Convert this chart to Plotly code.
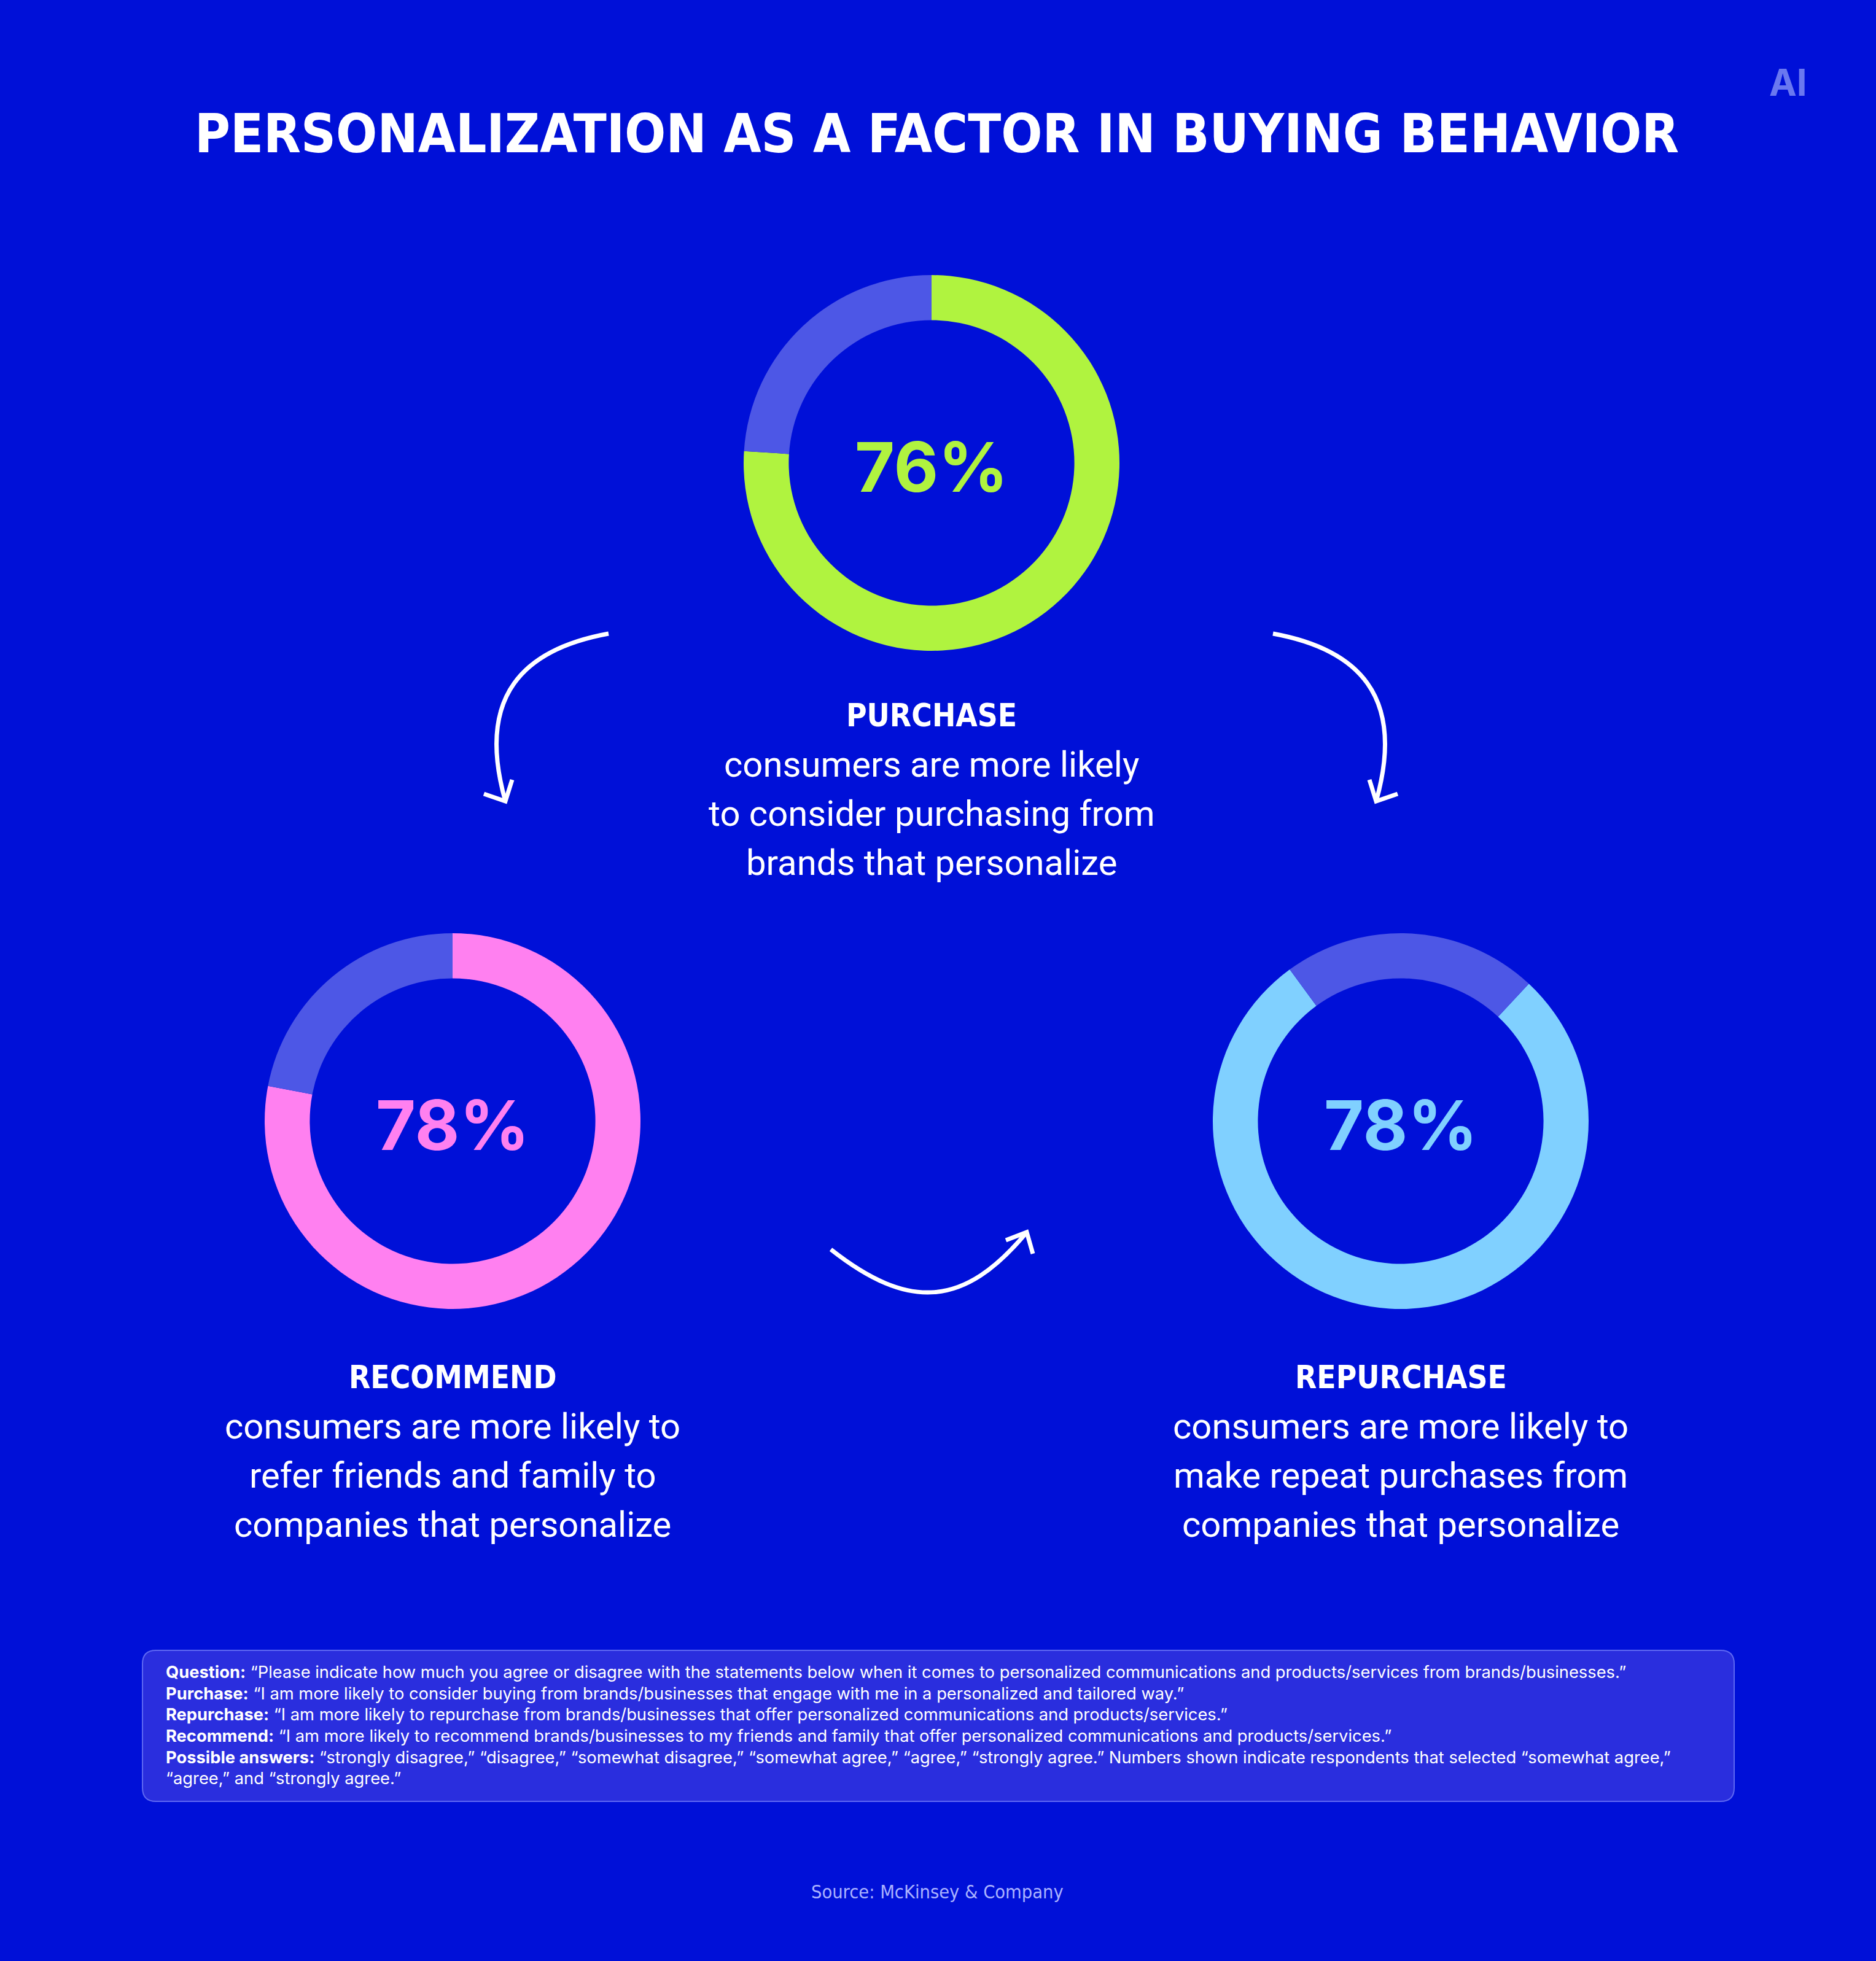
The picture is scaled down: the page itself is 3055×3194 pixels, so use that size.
import plotly.graph_objects as go

W, H = 3055, 3194
BG = "#0010D8"

# ---------------- data ----------------
categories = ["PURCHASE", "RECOMMEND", "REPURCHASE"]
agree_pct = [76, 78, 78]
other_pct = [24, 22, 22]
ring_colors = ["#B0F33F", "#FF80F0", "#80D0FF"]
rest_color = "#4D57E6"
descriptions = [
    ["consumers are more likely", "to consider purchasing from", "brands that personalize"],
    ["consumers are more likely to", "refer friends and family to", "companies that personalize"],
    ["consumers are more likely to", "make repeat purchases from", "companies that personalize"],
]
title_text = "PERSONALIZATION AS A FACTOR IN BUYING BEHAVIOR"
source_text = "Source: McKinsey & Company"
footnote_lines = [
    "<b>Question:</b> \u201cPlease indicate how much you agree or disagree with the statements below when it comes to personalized communications and products/services from brands/businesses.\u201d",
    "<b>Purchase:</b> \u201cI am more likely to consider buying from brands/businesses that engage with me in a personalized and tailored way.\u201d",
    "<b>Repurchase:</b> \u201cI am more likely to repurchase from brands/businesses that offer personalized communications and products/services.\u201d",
    "<b>Recommend:</b> \u201cI am more likely to recommend brands/businesses to my friends and family that offer personalized communications and products/services.\u201d",
    "<b>Possible answers:</b> \u201cstrongly disagree,\u201d \u201cdisagree,\u201d \u201csomewhat disagree,\u201d \u201csomewhat agree,\u201d \u201cagree,\u201d \u201cstrongly agree.\u201d Numbers shown indicate respondents that selected \u201csomewhat agree,\u201d",
    "\u201cagree,\u201d and \u201cstrongly agree.\u201d",
]

# ---------------- layout helpers (pixel -> paper) ----------------
def px(x):
    return x / W

def py(y):
    return 1 - y / H

centers = [(1517, 754), (737, 1826), (2281, 1826)]
R = 306
rotations = [0, 0, 43]

COND = "Liberation Sans Narrow, DejaVu Sans Condensed, Roboto, sans-serif"
BODY = "Roboto, Liberation Sans, sans-serif"

fig = go.Figure()
annotations = []
shapes = []

for i, cat in enumerate(categories):
    cx, cy = centers[i]
    fig.add_trace(go.Pie(
        values=[agree_pct[i], other_pct[i]],
        labels=["agree", "other"],
        hole=0.76,
        sort=False,
        direction="clockwise",
        rotation=rotations[i],
        marker=dict(colors=[ring_colors[i], rest_color], line=dict(width=0)),
        textinfo="none",
        hoverinfo="skip",
        showlegend=False,
        domain=dict(x=[px(cx - R), px(cx + R)], y=[py(cy + R), py(cy - R)]),
    ))
    annotations.append(dict(
        x=px(cx), y=py(cy + 6), xref="paper", yref="paper",
        text=f"<b>{agree_pct[i]}%</b>", showarrow=False,
        xanchor="center", yanchor="middle",
        font=dict(family="Inter, Roboto, sans-serif", size=112, color=ring_colors[i], weight=800),
    ))

# text blocks under each donut
heading_y = [1165, 2243, 2243]
for i, cat in enumerate(categories):
    cx = centers[i][0]
    hy = heading_y[i]
    annotations.append(dict(
        x=px(cx), y=py(hy), xref="paper", yref="paper", text=f"<b>{cat}</b>",
        showarrow=False, xanchor="center", yanchor="middle",
        font=dict(family=COND, size=51, color="white"),
    ))
    for j, line in enumerate(descriptions[i]):
        annotations.append(dict(
            x=px(cx), y=py(hy + 80 * (j + 1)), xref="paper", yref="paper", text=line,
            showarrow=False, xanchor="center", yanchor="middle",
            font=dict(family=BODY, size=58, color="white"),
        ))

# title
annotations.append(dict(
    x=px(1525), y=py(218), xref="paper", yref="paper", text=f"<b>{title_text}</b>",
    showarrow=False, xanchor="center", yanchor="middle",
    font=dict(family=COND, size=88, color="white"),
))
# logo
annotations.append(dict(
    x=px(2912), y=py(134), xref="paper", yref="paper", text="<b>AI</b>",
    showarrow=False, xanchor="center", yanchor="middle",
    font=dict(family="Inter, Roboto, sans-serif", size=60, color="#6A78F0"),
))
# source
annotations.append(dict(
    x=px(1526), y=py(3081), xref="paper", yref="paper", text=source_text,
    showarrow=False, xanchor="center", yanchor="middle",
    font=dict(family=COND, size=30.5, color="#AAB2FF"),
))
# footnote
line_y = [2723, 2758, 2792, 2827, 2862, 2896]
for t, yy in zip(footnote_lines, line_y):
    annotations.append(dict(
        x=px(268), y=py(yy), xref="paper", yref="paper", text=t,
        showarrow=False, xanchor="left", yanchor="middle",
        font=dict(family="Inter, Roboto, sans-serif", size=27.3, color="white"),
    ))

# footnote box with rounded corners
x0, x1, y0, y1, r = 232, 2824, 2688, 2934, 22
box = (f"M {px(x0 + r)},{py(y0)} L {px(x1 - r)},{py(y0)} "
       f"Q {px(x1)},{py(y0)} {px(x1)},{py(y0 + r)} L {px(x1)},{py(y1 - r)} "
       f"Q {px(x1)},{py(y1)} {px(x1 - r)},{py(y1)} L {px(x0 + r)},{py(y1)} "
       f"Q {px(x0)},{py(y1)} {px(x0)},{py(y1 - r)} L {px(x0)},{py(y0 + r)} "
       f"Q {px(x0)},{py(y0)} {px(x0 + r)},{py(y0)} Z")
shapes.append(dict(type="path", path=box, xref="paper", yref="paper",
                   fillcolor="#2A2EDE", line=dict(color="#5E68F2", width=2), layer="below"))

def cubic(p0, p1, p2, p3):
    return (f"M {px(p0[0])},{py(p0[1])} C {px(p1[0])},{py(p1[1])} "
            f"{px(p2[0])},{py(p2[1])} {px(p3[0])},{py(p3[1])}")

def head(w1, tip, w2):
    return (f"M {px(w1[0])},{py(w1[1])} L {px(tip[0])},{py(tip[1])} "
            f"L {px(w2[0])},{py(w2[1])}")

arrows = [
    ((991, 1032), (854, 1057), (774, 1132), (823, 1305), (788, 1293), (834, 1270)),
    ((2073, 1032), (2210, 1057), (2290, 1132), (2241, 1305), (2276, 1293), (2230, 1270)),
    ((1353, 2035), (1480, 2135), (1570, 2130), (1672, 2007), (1638, 2020), (1682, 2042)),
]
for a in arrows:
    shapes.append(dict(type="path", path=cubic(a[0], a[1], a[2], a[3]), xref="paper", yref="paper",
                       line=dict(color="white", width=7)))
    shapes.append(dict(type="path", path=head(a[4], a[3], a[5]), xref="paper", yref="paper",
                       line=dict(color="white", width=7)))

fig.update_layout(
    width=W, height=H,
    margin=dict(l=0, r=0, t=0, b=0),
    paper_bgcolor=BG, plot_bgcolor=BG,
    annotations=annotations, shapes=shapes,
    showlegend=False,
)
fig.write_html(
    "out.html",
    config={"displayModeBar": False},
    post_script="document.body.style.margin='0';document.body.style.padding='0';document.body.style.background='#0010D8';",
)
